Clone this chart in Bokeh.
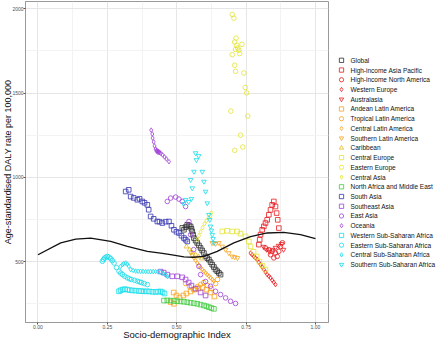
from bokeh.plotting import figure
from bokeh.models import Range1d, FixedTicker, ColumnDataSource
from bokeh.layouts import row
from bokeh.embed import file_html
from bokeh.resources import INLINE
from bokeh.core.properties import value

# ---------------- data ----------------
x_ticks = [0.0, 0.25, 0.5, 0.75, 1.0]
x_tick_labels = ["0.00", "0.25", "0.50", "0.75", "1.00"]
y_ticks = [500, 1000, 1500, 2000]
y_tick_labels = ["500", "1000", "1500", "2000"]

trend_sdi = [0.0, 0.082, 0.136, 0.19, 0.262, 0.322, 0.394, 0.442, 0.478, 0.526, 0.56, 0.598, 0.646, 0.706, 0.766, 0.826, 0.886, 0.946, 1.0]
trend_daly = [541, 611, 633, 640, 620, 590, 561, 551, 541, 528, 526, 531, 561, 611, 648, 670, 673, 660, 636]

global_sdi = [0.520, 0.526, 0.532, 0.538, 0.544, 0.550, 0.553, 0.556, 0.559, 0.562, 0.568, 0.574, 0.580, 0.586, 0.592, 0.598, 0.604, 0.610, 0.616, 0.622, 0.628, 0.634, 0.640, 0.646, 0.652, 0.658]
global_daly = [700, 689, 705, 719, 714, 709, 695, 679, 660, 640, 625, 611, 596, 581, 566, 551, 531, 521, 512, 497, 482, 468, 453, 443, 433, 423]

hiap_sdi = [0.796, 0.799, 0.802, 0.808, 0.814, 0.820, 0.826, 0.832, 0.838, 0.844, 0.850, 0.856, 0.860, 0.864, 0.868]
hiap_daly = [601, 630, 660, 689, 709, 729, 748, 778, 807, 837, 857, 827, 788, 748, 699]

hina_sdi = [0.820, 0.832, 0.838, 0.844, 0.850, 0.856, 0.862, 0.868, 0.874, 0.881]
hina_daly = [581, 571, 541, 561, 522, 551, 531, 561, 590, 612]

weur_sdi = [0.766, 0.772, 0.778, 0.784, 0.790, 0.796, 0.802, 0.808, 0.814, 0.820, 0.826, 0.832, 0.838, 0.844, 0.850, 0.856]
weur_daly = [551, 541, 531, 522, 512, 497, 482, 468, 453, 438, 423, 414, 404, 390, 378, 364]

austr_sdi = [0.813, 0.824, 0.835, 0.846, 0.856, 0.867, 0.878, 0.885]
austr_daly = [589, 571, 559, 571, 583, 595, 606, 571]

andean_sdi = [0.478, 0.490, 0.489, 0.499, 0.510, 0.524, 0.535, 0.550, 0.564, 0.578, 0.593, 0.607, 0.622, 0.636]
andean_daly = [260, 250, 317, 299, 287, 299, 311, 323, 334, 340, 346, 334, 317, 293]

tropical_sdi = [0.532, 0.546, 0.560, 0.575, 0.586, 0.597, 0.611, 0.625, 0.640, 0.647]
tropical_daly = [370, 352, 334, 352, 364, 376, 358, 340, 370, 394]

centla_sdi = [0.550, 0.556, 0.562, 0.568, 0.574, 0.580, 0.586, 0.592, 0.598, 0.604, 0.610, 0.616, 0.622, 0.628, 0.634]
centla_daly = [553, 538, 522, 507, 492, 478, 463, 453, 443, 433, 423, 414, 404, 394, 384]

southla_sdi = [0.628, 0.640, 0.652, 0.664, 0.676, 0.688, 0.700, 0.709, 0.719]
southla_daly = [611, 606, 611, 590, 571, 551, 531, 527, 522]

carib_sdi = [0.535, 0.546, 0.557, 0.568, 0.579, 0.590]
carib_daly = [589, 571, 553, 541, 530, 518]

ceur_sdi = [0.664, 0.682, 0.700, 0.718, 0.730, 0.748, 0.760, 0.766, 0.777, 0.788, 0.798, 0.809, 0.820]
ceur_daly = [679, 683, 679, 679, 666, 650, 620, 590, 559, 530, 500, 476, 453]

eeur_sdi = [0.709, 0.700, 0.700, 0.706, 0.714, 0.709, 0.716, 0.712, 0.720, 0.724, 0.727, 0.735, 0.709, 0.712, 0.742, 0.747, 0.752, 0.695, 0.756, 0.730, 0.738]
eeur_daly = [1160, 1728, 1966, 1944, 1826, 1803, 1783, 1759, 1767, 1754, 1734, 1789, 1665, 1629, 1619, 1533, 1501, 1393, 1363, 1250, 1180]

casia_sdi = [0.574, 0.580, 0.586, 0.593, 0.600, 0.607, 0.615, 0.622, 0.625]
casia_daly = [630, 654, 677, 701, 725, 742, 760, 772, 790]

name_sdi = [0.454, 0.466, 0.478, 0.490, 0.502, 0.514, 0.526, 0.538, 0.550, 0.562, 0.574, 0.586, 0.598, 0.607, 0.616, 0.625, 0.634]
name_daly = [269, 270, 269, 267, 265, 264, 262, 259, 256, 253, 250, 245, 240, 235, 230, 225, 220]

sasia_sdi = [0.316, 0.327, 0.334, 0.345, 0.358, 0.366, 0.376, 0.384, 0.394, 0.399, 0.406, 0.417, 0.430, 0.438, 0.448, 0.460, 0.472, 0.481, 0.490, 0.499, 0.508, 0.517, 0.526, 0.532, 0.538]
sasia_daly = [916, 926, 886, 878, 867, 873, 857, 849, 837, 808, 768, 754, 738, 737, 729, 737, 738, 713, 689, 677, 670, 654, 640, 630, 620]

seasia_sdi = [0.442, 0.453, 0.466, 0.484, 0.502, 0.520, 0.532, 0.543, 0.553, 0.568, 0.586, 0.604]
seasia_daly = [441, 435, 423, 413, 413, 407, 394, 376, 358, 340, 317, 299]

easia_sdi = [0.466, 0.478, 0.496, 0.508, 0.520, 0.532, 0.544, 0.550, 0.561, 0.580, 0.586, 0.604, 0.622, 0.640, 0.658, 0.676, 0.694, 0.712]
easia_daly = [857, 877, 883, 871, 857, 827, 738, 660, 571, 472, 423, 382, 354, 324, 305, 285, 265, 252]

oceania_sdi = [0.408, 0.412, 0.413, 0.417, 0.420, 0.424, 0.427, 0.428, 0.431, 0.433, 0.436, 0.438, 0.442, 0.449, 0.456, 0.463, 0.472]
oceania_daly = [1280, 1257, 1233, 1210, 1186, 1168, 1156, 1160, 1150, 1155, 1147, 1150, 1143, 1133, 1121, 1109, 1093]

wssa_sdi = [0.292, 0.298, 0.305, 0.313, 0.322, 0.331, 0.341, 0.352, 0.363, 0.372, 0.382, 0.392, 0.402, 0.413, 0.424, 0.433, 0.442, 0.449, 0.456]
wssa_daly = [324, 330, 334, 337, 334, 331, 329, 328, 326, 325, 324, 324, 323, 321, 320, 322, 323, 318, 311]

essa_sdi = [0.232, 0.236, 0.240, 0.245, 0.250, 0.256, 0.262, 0.268, 0.274, 0.283, 0.292, 0.298, 0.305, 0.313, 0.322, 0.330, 0.337, 0.348, 0.358, 0.366, 0.373, 0.383, 0.394]
essa_daly = [502, 512, 521, 527, 531, 527, 518, 506, 492, 465, 443, 432, 423, 413, 404, 398, 394, 389, 384, 380, 376, 370, 364]

cssa_sdi = [0.298, 0.304, 0.309, 0.316, 0.322, 0.327, 0.334, 0.343, 0.352, 0.361, 0.370, 0.379, 0.388, 0.397, 0.406, 0.415, 0.424, 0.433, 0.442, 0.451, 0.460, 0.467]
cssa_daly = [472, 482, 488, 492, 485, 473, 453, 448, 444, 443, 443, 442, 441, 441, 441, 441, 441, 440, 438, 431, 423, 411]

sssa_sdi = [0.568, 0.579, 0.571, 0.562, 0.592, 0.550, 0.598, 0.556, 0.604, 0.532, 0.543, 0.553, 0.525, 0.610, 0.616, 0.619, 0.622, 0.625, 0.628, 0.631, 0.634]
sssa_daly = [1144, 1127, 1103, 1034, 1034, 985, 975, 936, 916, 867, 855, 873, 843, 847, 778, 748, 709, 685, 660, 636, 611]

# ---------------- styles ----------------
BLACK = "#2b2b2b"
RED = "#e8191e"
ORANGE = "#f7a21b"
CARIB = "#e8b923"
YELLOW = "#e3e334"
GREEN = "#3ccc3c"
BLUE = "#3535b0"
PURPLE = "#a040d8"
CYAN = "#16dcea"

regions = [
    ("Global", global_sdi, global_daly, "square", BLACK),
    ("High-income Asia Pacific", hiap_sdi, hiap_daly, "square", RED),
    ("High-income North America", hina_sdi, hina_daly, "circle", RED),
    ("Western Europe", weur_sdi, weur_daly, "diamond", RED),
    ("Australasia", austr_sdi, austr_daly, "inverted_triangle", RED),
    ("Andean Latin America", andean_sdi, andean_daly, "square", ORANGE),
    ("Tropical Latin America", tropical_sdi, tropical_daly, "circle", ORANGE),
    ("Central Latin America", centla_sdi, centla_daly, "diamond", ORANGE),
    ("Southern Latin America", southla_sdi, southla_daly, "inverted_triangle", ORANGE),
    ("Caribbean", carib_sdi, carib_daly, "triangle", CARIB),
    ("Central Europe", ceur_sdi, ceur_daly, "square", YELLOW),
    ("Eastern Europe", eeur_sdi, eeur_daly, "circle", YELLOW),
    ("Central Asia", casia_sdi, casia_daly, "diamond", YELLOW),
    ("North Africa and Middle East", name_sdi, name_daly, "square", GREEN),
    ("South Asia", sasia_sdi, sasia_daly, "square", BLUE),
    ("Southeast Asia", seasia_sdi, seasia_daly, "square", PURPLE),
    ("East Asia", easia_sdi, easia_daly, "circle", PURPLE),
    ("Oceania", oceania_sdi, oceania_daly, "diamond", PURPLE),
    ("Western Sub-Saharan Africa", wssa_sdi, wssa_daly, "square", CYAN),
    ("Eastern Sub-Saharan Africa", essa_sdi, essa_daly, "circle", CYAN),
    ("Central Sub-Saharan Africa", cssa_sdi, cssa_daly, "diamond", CYAN),
    ("Southern Sub-Saharan Africa", sssa_sdi, sssa_daly, "inverted_triangle", CYAN),
]

FONT = "Liberation Sans"

p = figure(width=329, height=342,
           x_range=Range1d(-0.045, 1.047), y_range=Range1d(139, 2043),
           output_backend="svg", toolbar_location=None,
           min_border_left=25, min_border_right=1, min_border_top=1, min_border_bottom=19)
p.background_fill_color = "white"
p.outline_line_color = "#9a9a9a"
p.outline_line_width = 1

p.xaxis.ticker = FixedTicker(ticks=x_ticks, minor_ticks=[0.125, 0.375, 0.625, 0.875])
p.yaxis.ticker = FixedTicker(ticks=y_ticks, minor_ticks=[250, 750, 1250, 1750])
p.xaxis.major_label_overrides = {t: l for t, l in zip(x_ticks, x_tick_labels)}
p.yaxis.major_label_overrides = {t: l for t, l in zip(y_ticks, y_tick_labels)}

for ax in (p.xaxis, p.yaxis):
    ax.axis_line_color = "#9a9a9a"
    ax.major_tick_line_color = "#555555"
    ax.major_tick_in = 0
    ax.major_tick_out = 2
    ax.minor_tick_in = 0
    ax.minor_tick_out = 0
    ax.minor_tick_line_color = None
    ax.major_label_text_font = FONT
    ax.major_label_text_font_size = "5px"
    ax.major_label_text_color = "#4d4d4d"
    ax.major_label_standoff = 0
    ax.axis_label_text_font = FONT
    ax.axis_label_text_font_style = "normal"
    ax.axis_label_text_color = "#111111"

p.xaxis.axis_label = "Socio-demographic Index"
p.xaxis.axis_label_text_font_size = "9.5px"
p.xaxis.axis_label_standoff = -3
p.yaxis.axis_label = "Age-standardised DALY rate per 100,000"
p.yaxis.axis_label_text_font_size = "9px"
p.yaxis.axis_label_standoff = -4

p.xgrid.grid_line_color = "#e6e6e6"
p.ygrid.grid_line_color = "#e6e6e6"
p.xgrid.minor_grid_line_color = "#f3f3f3"
p.ygrid.minor_grid_line_color = "#f3f3f3"

for name, xs, ys, marker, color in regions:
    src = ColumnDataSource(dict(x=xs, y=ys))
    p.scatter("x", "y", source=src, marker=marker, size=4.6,
              fill_alpha=0, line_color=color, line_width=0.8)

p.line(trend_sdi, trend_daly, line_color="#111111", line_width=1.3)

# ---------------- legend panel ----------------
lg = figure(width=111, height=342, x_range=Range1d(0, 111), y_range=Range1d(323, 1),
            output_backend="svg", toolbar_location=None,
            x_axis_location=None, y_axis_location=None,
            min_border_left=0, min_border_right=0, min_border_top=1, min_border_bottom=19)
lg.grid.visible = False
lg.outline_line_color = None

names = [r[0] for r in regions]
ly = [60 + i * 9.76 for i in range(len(regions))]
lsrc = ColumnDataSource(dict(x=[12] * len(regions), tx=[21] * len(regions), y=ly,
                             text=names, marker=[r[3] for r in regions],
                             color=[r[4] for r in regions]))
lg.scatter("x", "y", source=lsrc, marker="marker", size=4.3, fill_alpha=0,
           line_color="color", line_width=0.8)
lg.text("tx", "y", text="text", source=lsrc, text_font=value(FONT),
        text_font_size="6.5px", text_baseline="middle", text_color="#111111")

layout = row(p, lg)
open("out.html", "w").write(file_html(layout, INLINE))
